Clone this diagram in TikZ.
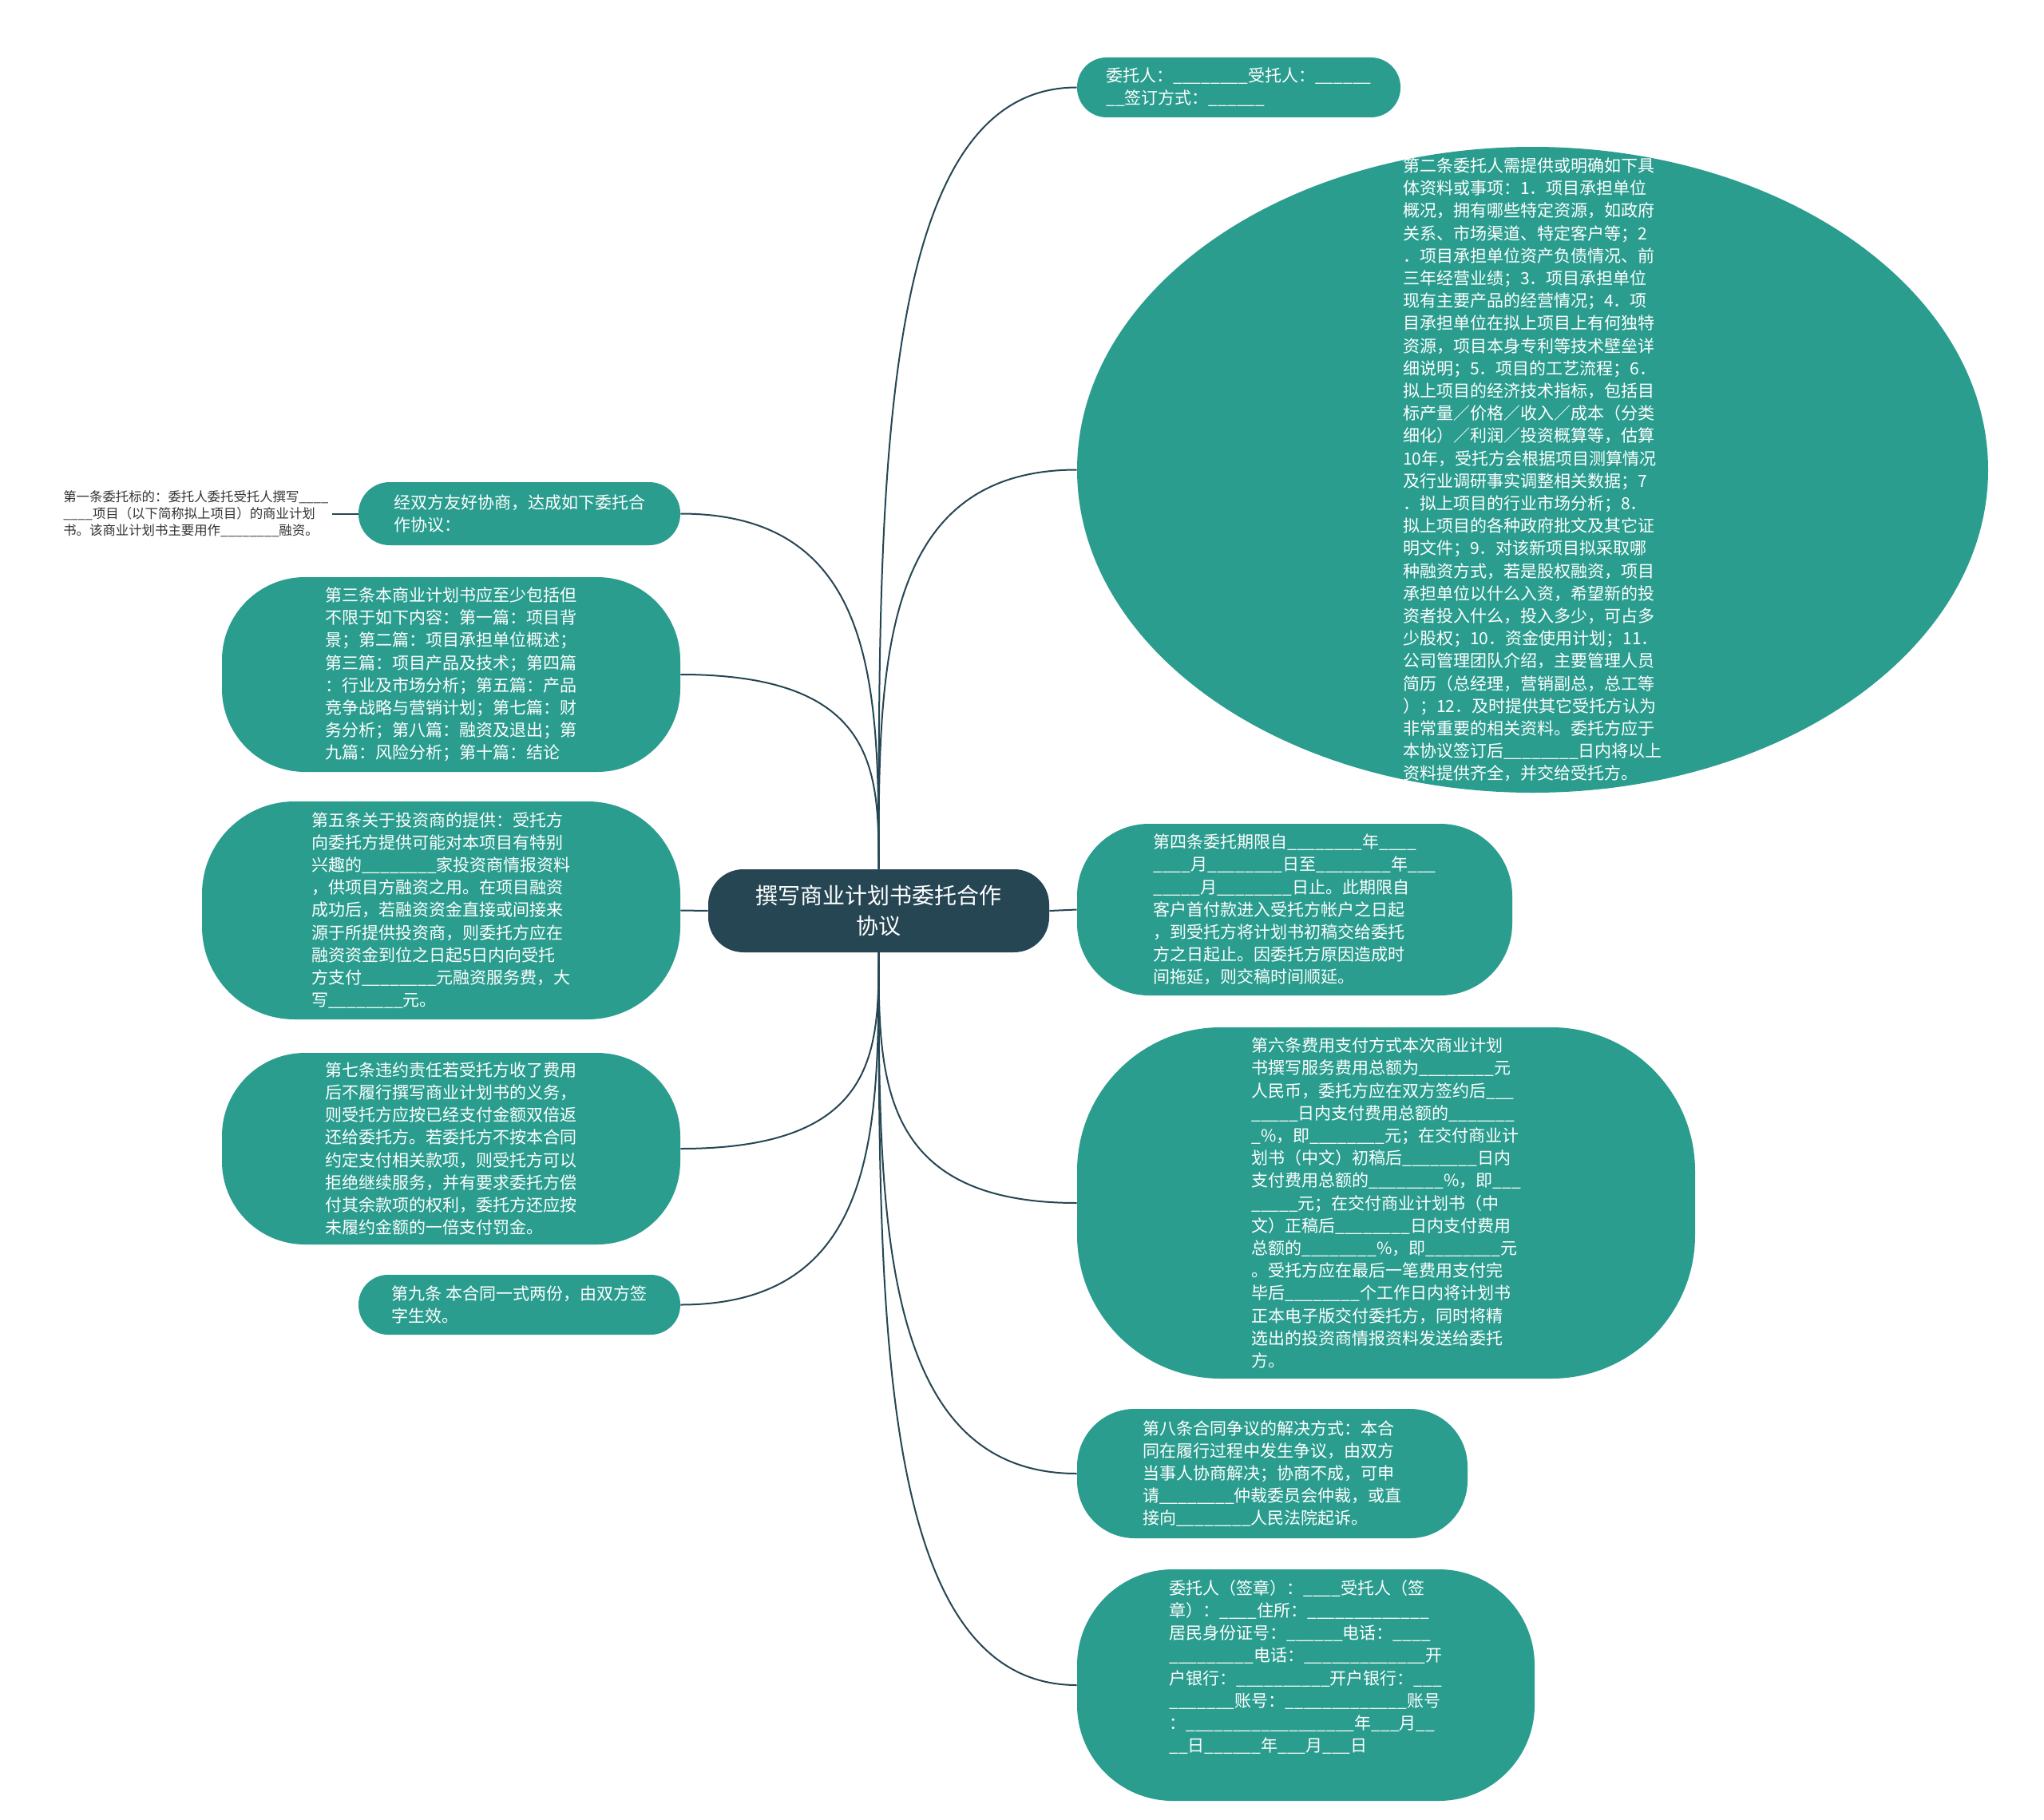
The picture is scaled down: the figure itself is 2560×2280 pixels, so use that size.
\documentclass[tikz,border=0pt]{standalone}
\usepackage{fontspec}
\setmainfont{Noto Sans CJK SC}
\usetikzlibrary{shapes.geometric,calc,positioning}

\definecolor{rootblue}{HTML}{264653}
\definecolor{topicgreen}{HTML}{2A9D8F}
\definecolor{leafgray}{HTML}{333333}

% a run of n underscores for the blanks to fill in
\newcommand{\ublank}[1]{\foreach \k in {1,...,#1}{\_}}

\tikzset{
  mainbox/.style={fill=rootblue, text=white, align=center,
    font=\fontsize{14pt}{18.8pt}\selectfont,
    minimum width=213.5pt, minimum height=52pt, rounded corners=22pt},
  topicbox/.style={fill=topicgreen, text=white, align=left, inner sep=2pt,
    font=\fontsize{10.5pt}{14.1pt}\selectfont},
  topictext/.style={text=white, align=left, inner sep=0pt,
    font=\fontsize{10.5pt}{14.1pt}\selectfont},
  leafnote/.style={text=leafgray, align=left, inner sep=2pt,
    font=\fontsize{8.2pt}{10.6pt}\selectfont},
  link/.style={draw=rootblue, line width=1pt},
  curvelink/.style={to path={.. controls ($(\tikztostart)!.5!(\tikztostart |- \tikztotarget)$)
    and (\tikztostart |- \tikztotarget) .. (\tikztotarget)}}
}

\begin{document}
\begin{tikzpicture}[x=0.5pt,y=-0.5pt]
\fill[white] (0,0) rectangle (2560,2280);
\useasboundingbox (0,0) rectangle (2560,2280);

\node[mainbox] (root) at (1100.5,1141) {撰写商业计划书委托合作\\协议};

% right side
\node[topicbox, minimum width=202.5pt, minimum height=37.5pt, rounded corners=18.5pt]
  (parties) at (1551.5,109.5)
  {委托人：\ublank{8}受托人：\ublank{6}\\
   \ublank{2}签订方式：\ublank{6}};

\node[ellipse, fill=topicgreen, minimum width=570.5pt, minimum height=404.5pt, inner sep=0pt]
  (art2) at (1919.5,588.5) {};
\node[topictext] (art2text) at (art2.center)
  {第二条委托人需提供或明确如下具\\
   体资料或事项：1．项目承担单位\\
   概况，拥有哪些特定资源，如政府\\
   关系、市场渠道、特定客户等；2\\
   ．项目承担单位资产负债情况、前\\
   三年经营业绩；3．项目承担单位\\
   现有主要产品的经营情况；4．项\\
   目承担单位在拟上项目上有何独特\\
   资源，项目本身专利等技术壁垒详\\
   细说明；5．项目的工艺流程；6．\\
   拟上项目的经济技术指标，包括目\\
   标产量／价格／收入／成本（分类\\
   细化）／利润／投资概算等，估算\\
   10年，受托方会根据项目测算情况\\
   及行业调研事实调整相关数据；7\\
   ．拟上项目的行业市场分析；8．\\
   拟上项目的各种政府批文及其它证\\
   明文件；9．对该新项目拟采取哪\\
   种融资方式，若是股权融资，项目\\
   承担单位以什么入资，希望新的投\\
   资者投入什么，投入多少，可占多\\
   少股权；10．资金使用计划；11．\\
   公司管理团队介绍，主要管理人员\\
   简历（总经理，营销副总，总工等\\
   ）；12．及时提供其它受托方认为\\
   非常重要的相关资料。委托方应于\\
   本协议签订后\ublank{8}日内将以上\\
   资料提供齐全，并交给受托方。};

\node[topicbox, minimum width=272.5pt, minimum height=107.5pt, rounded corners=45pt]
  (art4) at (1621.5,1139.5)
  {第四条委托期限自\ublank{8}年\ublank{4}\\
   \ublank{4}月\ublank{8}日至\ublank{8}年\ublank{3}\\
   \ublank{5}月\ublank{8}日止。此期限自\\
   客户首付款进入受托方帐户之日起\\
   ，到受托方将计划书初稿交给委托\\
   方之日起止。因委托方原因造成时\\
   间拖延，则交稿时间顺延。};

\node[topicbox, minimum width=387pt, minimum height=220pt, rounded corners=90pt]
  (art6) at (1736,1507)
  {第六条费用支付方式本次商业计划\\
   书撰写服务费用总额为\ublank{8}元\\
   人民币，委托方应在双方签约后\ublank{3}\\
   \ublank{5}日内支付费用总额的\ublank{7}\\
   \ublank{1}\%，即\ublank{8}元；在交付商业计\\
   划书（中文）初稿后\ublank{8}日内\\
   支付费用总额的\ublank{8}\%，即\ublank{3}\\
   \ublank{5}元；在交付商业计划书（中\\
   文）正稿后\ublank{8}日内支付费用\\
   总额的\ublank{8}\%，即\ublank{8}元\\
   。受托方应在最后一笔费用支付完\\
   毕后\ublank{8}个工作日内将计划书\\
   正本电子版交付委托方，同时将精\\
   选出的投资商情报资料发送给委托\\
   方。};

\node[topicbox, minimum width=244.5pt, minimum height=81pt, rounded corners=36pt]
  (art8) at (1593.5,1846)
  {第八条合同争议的解决方式：本合\\
   同在履行过程中发生争议，由双方\\
   当事人协商解决；协商不成，可申\\
   请\ublank{8}仲裁委员会仲裁，或直\\
   接向\ublank{8}人民法院起诉。};

\node[topicbox, minimum width=286.5pt, minimum height=145pt, rounded corners=60pt,
  text depth=24pt]
  (sign) at (1635.5,2111)
  {委托人（签章）：\ublank{4}受托人（签\\
   章）：\ublank{4}住所：\ublank{13}\\
   居民身份证号：\ublank{6}电话：\ublank{4}\\
   \ublank{9}电话：\ublank{13}开\\
   户银行：\ublank{10}开户银行：\ublank{3}\\
   \ublank{7}账号：\ublank{13}账号\\
   ：\ublank{18}年\ublank{3}月\ublank{2}\\
   \ublank{2}日\ublank{6}年\ublank{3}月\ublank{3}日};

% left side
\node[topicbox, minimum width=201.5pt, minimum height=39.5pt, rounded corners=19.5pt]
  (consent) at (650.5,643.5)
  {经双方友好协商，达成如下委托合\\作协议：};

\node[leafnote, left=16.5pt of consent] (art1)
  {第一条委托标的：委托人委托受托人撰写\ublank{4}\\
   \ublank{4}项目（以下简称拟上项目）的商业计划\\
   书。该商业计划书主要用作\ublank{8}融资。};

\node[topicbox, minimum width=287pt, minimum height=122pt, rounded corners=52pt]
  (art3) at (565,845)
  {第三条本商业计划书应至少包括但\\
   不限于如下内容：第一篇：项目背\\
   景；第二篇：项目承担单位概述；\\
   第三篇：项目产品及技术；第四篇\\
   ：行业及市场分析；第五篇：产品\\
   竞争战略与营销计划；第七篇：财\\
   务分析；第八篇：融资及退出；第\\
   九篇：风险分析；第十篇：结论};

\node[topicbox, minimum width=299.5pt, minimum height=136.5pt, rounded corners=58pt]
  (art5) at (552.5,1140.5)
  {第五条关于投资商的提供：受托方\\
   向委托方提供可能对本项目有特别\\
   兴趣的\ublank{8}家投资商情报资料\\
   ，供项目方融资之用。在项目融资\\
   成功后，若融资资金直接或间接来\\
   源于所提供投资商，则委托方应在\\
   融资资金到位之日起5日内向受托\\
   方支付\ublank{8}元融资服务费，大\\
   写\ublank{8}元。};

\node[topicbox, minimum width=287pt, minimum height=120pt, rounded corners=52pt]
  (art7) at (565,1439)
  {第七条违约责任若受托方收了费用\\
   后不履行撰写商业计划书的义务，\\
   则受托方应按已经支付金额双倍返\\
   还给委托方。若委托方不按本合同\\
   约定支付相关款项，则受托方可以\\
   拒绝继续服务，并有要求委托方偿\\
   付其余款项的权利，委托方还应按\\
   未履约金额的一倍支付罚金。};

\node[topicbox, minimum width=201.5pt, minimum height=37.5pt, rounded corners=18.5pt]
  (art9) at (650.5,1634.5)
  {第九条 本合同一式两份，由双方签\\字生效。};

% connectors
\draw[link] (root.north) to[curvelink] (parties.west);
\draw[link] (root.north) to[curvelink] (art2.west);
\draw[link] (root.east) -- (art4.west);
\draw[link] (root.south) to[curvelink] (art6.west);
\draw[link] (root.south) to[curvelink] (art8.west);
\draw[link] (root.south) to[curvelink] (sign.west);
\draw[link] (root.north) to[curvelink] (consent.east);
\draw[link] (root.north) to[curvelink] (art3.east);
\draw[link] (root.west) -- (art5.east);
\draw[link] (root.south) to[curvelink] (art7.east);
\draw[link] (root.south) to[curvelink] (art9.east);
\draw[link] (consent.west) -- (art1.east);
\end{tikzpicture}
\end{document}
